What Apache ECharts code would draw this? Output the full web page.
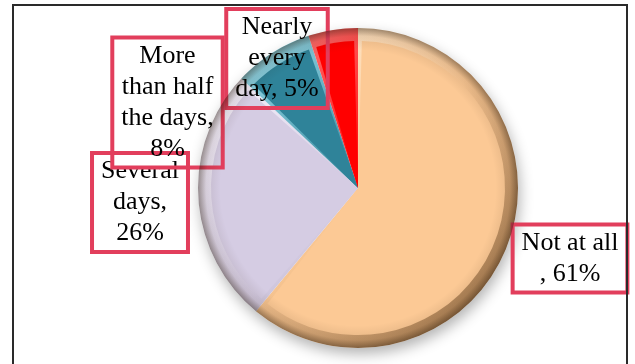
<!DOCTYPE html>
<html>
<head>
<meta charset="utf-8">
<script src="https://cdn.jsdelivr.net/npm/echarts@6/dist/echarts.min.js"></script>
<style>
  html, body { margin: 0; padding: 0; background: #fff; }
  #chart { width: 635px; height: 364px; }
</style>
</head>
<body>
<div id="chart"></div>
<script>
// Responses to "how often" question, in percent
const categories = ['Not at all', 'Several days', 'More than half the days', 'Nearly every day'];
const values = [61, 26, 8, 5];
// Wrapped label text; {v} is replaced by the slice value
const labelTemplates = [
  'Not at all\n, {v}%',
  'Several\ndays,\n{v}%',
  'More\nthan half\nthe days,\n{v}%',
  'Nearly\nevery\nday, {v}%'
];

// Styling
const faceColors = ['#FCC995', '#D5CCE3', '#2F8399', '#FF0000'];
const rimLight   = ['#FFF4E2', '#FAF6FF', '#A8E8F6', '#FF9A9A'];
const rimDark    = ['#9C7248', '#6A6476', '#134452', '#7A0000'];

const CX = 358, CY = 188, R = 160, R_FACE = 147;
// Label box centres (layout)
const labelBoxes = [[570, 258.5], [140, 202.5], [167.5, 102.5], [277, 58.5]];

function rimGradient(i) {
  return {
    type: 'linear', global: true,
    x: CX - R, y: CY - R, x2: CX + R, y2: CY + R,
    colorStops: [
      { offset: 0.05, color: rimLight[i] },
      { offset: 0.5, color: faceColors[i] },
      { offset: 0.95, color: rimDark[i] }
    ]
  };
}

const total = values.reduce((a, b) => a + b, 0);

const chart = echarts.init(document.getElementById('chart'), null, { renderer: 'canvas' });

chart.setOption({
  backgroundColor: '#ffffff',
  animation: false,
  graphic: [{
    type: 'rect',
    silent: true,
    z: 100,
    shape: { x: 13, y: 5, width: 614, height: 380 },
    style: { fill: 'none', stroke: '#2a2a2a', lineWidth: 2 }
  }],
  series: [
    {
      // soft drop shadow under the whole pie
      type: 'pie',
      silent: true,
      center: [CX, CY],
      radius: [0, R],
      z: 1,
      label: { show: false },
      labelLine: { show: false },
      itemStyle: {
        color: '#ffffff',
        shadowBlur: 14,
        shadowColor: 'rgba(0,0,0,0.3)',
        shadowOffsetX: 2,
        shadowOffsetY: 6
      },
      data: [{ value: total, name: 'all' }]
    },
    {
      // bevelled rim
      type: 'pie',
      silent: true,
      center: [CX, CY],
      radius: [0, R],
      z: 2,
      clockwise: true,
      startAngle: 90,
      label: { show: false },
      labelLine: { show: false },
      data: categories.map((name, i) => ({
        name, value: values[i],
        itemStyle: { color: rimGradient(i) }
      }))
    },
    {
      // flat slice faces with labels
      type: 'pie',
      center: [CX, CY],
      radius: [0, R_FACE],
      z: 3,
      clockwise: true,
      startAngle: 90,
      padAngle: 3,
      avoidLabelOverlap: false,
      labelLine: { show: false },
      label: {
        show: true,
        position: 'outside',
        formatter: p => labelTemplates[p.dataIndex].replace('{v}', p.value),
        fontFamily: '"Liberation Serif", "Times New Roman", serif',
        fontSize: 26,
        lineHeight: 31,
        color: '#000',
        borderColor: '#E23E5C',
        borderWidth: 2,
        padding: [3, 9],
        backgroundColor: 'transparent'
      },
      labelLayout: function (params) {
        const b = labelBoxes[params.dataIndex];
        return { x: b[0], y: b[1], align: 'center', verticalAlign: 'middle' };
      },
      data: categories.map((name, i) => ({
        name, value: values[i],
        itemStyle: { color: faceColors[i] }
      }))
    },
    {
      // soft darkening toward the outer edge, over rim and faces
      type: 'pie',
      silent: true,
      center: [CX, CY],
      radius: [R - 24, R],
      z: 4,
      label: { show: false },
      labelLine: { show: false },
      itemStyle: {
        color: {
          type: 'radial', global: true, x: CX, y: CY, r: R,
          colorStops: [
            { offset: 0, color: 'rgba(40,20,0,0)' },
            { offset: 0.86, color: 'rgba(40,20,0,0)' },
            { offset: 0.95, color: 'rgba(40,20,0,0.10)' },
            { offset: 1, color: 'rgba(30,15,0,0.42)' }
          ]
        }
      },
      data: [{ value: total, name: 'edge' }]
    }
  ]
});
</script>
</body>
</html>
